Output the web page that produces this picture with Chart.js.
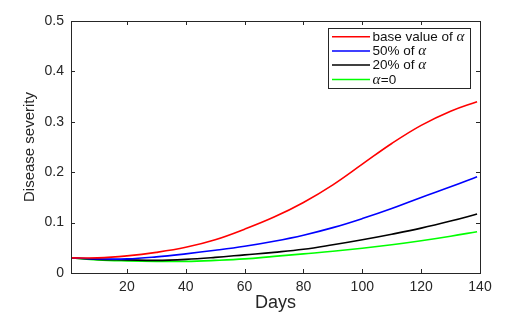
<!DOCTYPE html>
<html>
<head>
<meta charset="utf-8">
<script src="https://cdn.jsdelivr.net/npm/chart.js@4/dist/chart.umd.min.js"></script>
<style>
html,body{margin:0;padding:0;background:#fff;}
#wrap{width:508px;height:317px;position:relative;}
</style>
</head>
<body>
<div id="wrap"><canvas id="c" width="508" height="317"></canvas></div>
<script>
// ---- data ----
const days = [1, 10, 20, 30, 40, 50, 60, 70, 80, 90, 100, 110, 120, 130, 139];
const baseAlpha   = [0.030, 0.030, 0.034, 0.041, 0.051, 0.066, 0.087, 0.111, 0.140, 0.175, 0.216, 0.257, 0.293, 0.321, 0.340];
const alpha50     = [0.030, 0.028, 0.028, 0.032, 0.038, 0.045, 0.053, 0.063, 0.075, 0.090, 0.108, 0.128, 0.150, 0.171, 0.191];
const alpha20     = [0.030, 0.027, 0.026, 0.025, 0.027, 0.031, 0.036, 0.041, 0.047, 0.056, 0.066, 0.077, 0.089, 0.103, 0.117];
const alphaZero   = [0.030, 0.026, 0.024, 0.023, 0.023, 0.025, 0.028, 0.033, 0.038, 0.043, 0.049, 0.056, 0.064, 0.073, 0.082];
const seriesLabels = ['base value of \u03B1', '50% of \u03B1', '20% of \u03B1', '\u03B1=0'];
const seriesColors = ['#ff0000', '#0000ff', '#000000', '#00ff00'];
const xTicks = [20, 40, 60, 80, 100, 120, 140];
const yTicks = [0, 0.1, 0.2, 0.3, 0.4, 0.5];
const xTitle = 'Days';
const yTitle = 'Disease severity';

const seriesValues = [baseAlpha, alpha50, alpha20, alphaZero];
const datasets = seriesValues.map((vals, i) => ({
  label: seriesLabels[i],
  data: vals.map((v, j) => ({x: days[j], y: v})),
  borderColor: seriesColors[i],
  backgroundColor: seriesColors[i],
  borderWidth: 1.6,
  pointRadius: 0,
  tension: 0.4,
  fill: false
}));

const AXC = '#262626';
const FONT = "'Liberation Sans', Arial, Helvetica, sans-serif";

const framePlugin = {
  id: 'frame',
  afterDraw(chart) {
    const ctx = chart.ctx;
    const a = chart.chartArea;
    const xs = chart.scales.x, ys = chart.scales.y;
    ctx.save();
    ctx.strokeStyle = AXC;
    ctx.lineWidth = 1;
    ctx.strokeRect(Math.round(a.left) + 0.5, Math.round(a.top) + 0.5,
                   Math.round(a.right) - Math.round(a.left), Math.round(a.bottom) - Math.round(a.top));
    const tl = 4;
    ctx.beginPath();
    xTicks.forEach(v => {
      const px = Math.round(xs.getPixelForValue(v)) + 0.5;
      ctx.moveTo(px, a.bottom); ctx.lineTo(px, a.bottom - tl);
      ctx.moveTo(px, a.top); ctx.lineTo(px, a.top + tl);
    });
    yTicks.forEach(v => {
      const py = Math.round(ys.getPixelForValue(v)) + 0.5;
      ctx.moveTo(a.left, py); ctx.lineTo(a.left + tl, py);
      ctx.moveTo(a.right, py); ctx.lineTo(a.right - tl, py);
    });
    ctx.stroke();

    // axis titles
    ctx.fillStyle = AXC;
    ctx.font = '18px ' + FONT;
    ctx.textAlign = 'center';
    ctx.textBaseline = 'alphabetic';
    ctx.fillText(xTitle, (a.left + a.right) / 2, 308);
    ctx.save();
    ctx.translate(34, 147);
    ctx.rotate(-Math.PI / 2);
    ctx.font = '15px ' + FONT;
    ctx.fillText(yTitle, 0, 0);
    ctx.restore();

    // legend inside plot
    const bx = 328.5, by = 28.5, bw = 142, bh = 60;
    ctx.fillStyle = '#ffffff';
    ctx.fillRect(bx, by, bw, bh);
    ctx.strokeStyle = AXC;
    ctx.lineWidth = 1;
    ctx.strokeRect(bx, by, bw, bh);
    const rows = [36.7, 51, 65, 79.5];
    chart.data.datasets.forEach((ds, i) => {
      const y = rows[i];
      ctx.strokeStyle = ds.borderColor;
      ctx.lineWidth = 1.6;
      ctx.beginPath();
      ctx.moveTo(332, y); ctx.lineTo(370, y);
      ctx.stroke();
      let x = 372.5;
      const parts = ds.label.split('\u03B1');
      ctx.textAlign = 'left';
      ctx.textBaseline = 'middle';
      ctx.fillStyle = '#111';
      parts.forEach((p, k) => {
        if (p) {
          ctx.font = '13.5px ' + FONT;
          ctx.fillText(p, x, y + 0.5);
          x += ctx.measureText(p).width;
        }
        if (k < parts.length - 1) {
          ctx.font = "italic 15px 'Liberation Serif', 'DejaVu Serif', serif";
          ctx.fillText('\u03B1', x, y + 0.5);
          x += ctx.measureText('\u03B1').width + 0.5;
        }
      });
    });
    ctx.restore();
  }
};

new Chart(document.getElementById('c'), {
  type: 'line',
  data: { datasets },
  options: {
    responsive: false,
    animation: false,
    devicePixelRatio: 1,
    layout: { padding: { top: 21, right: 28, left: 0, bottom: 0 } },
    plugins: { legend: { display: false }, tooltip: { enabled: false }, title: { display: false } },
    scales: {
      x: {
        type: 'linear',
        min: 1, max: 140,
        grid: { display: false, drawTicks: false },
        border: { display: false },
        afterBuildTicks: s => { s.ticks = xTicks.map(v => ({ value: v })); },
        afterFit: s => { s.height = 44; },
        ticks: { color: AXC, font: { family: FONT, size: 14 }, padding: 6, maxRotation: 0, autoSkip: false }
      },
      y: {
        type: 'linear',
        min: 0, max: 0.5,
        grid: { display: false, drawTicks: false },
        border: { display: false },
        afterBuildTicks: s => { s.ticks = yTicks.map(v => ({ value: v })); },
        afterFit: s => { s.width = 71; },
        ticks: {
          color: AXC, font: { family: FONT, size: 14 }, padding: 7,
          callback: v => v === 0 ? '0' : (+v).toFixed(1)
        }
      }
    }
  },
  plugins: [framePlugin]
});
</script>
</body>
</html>
